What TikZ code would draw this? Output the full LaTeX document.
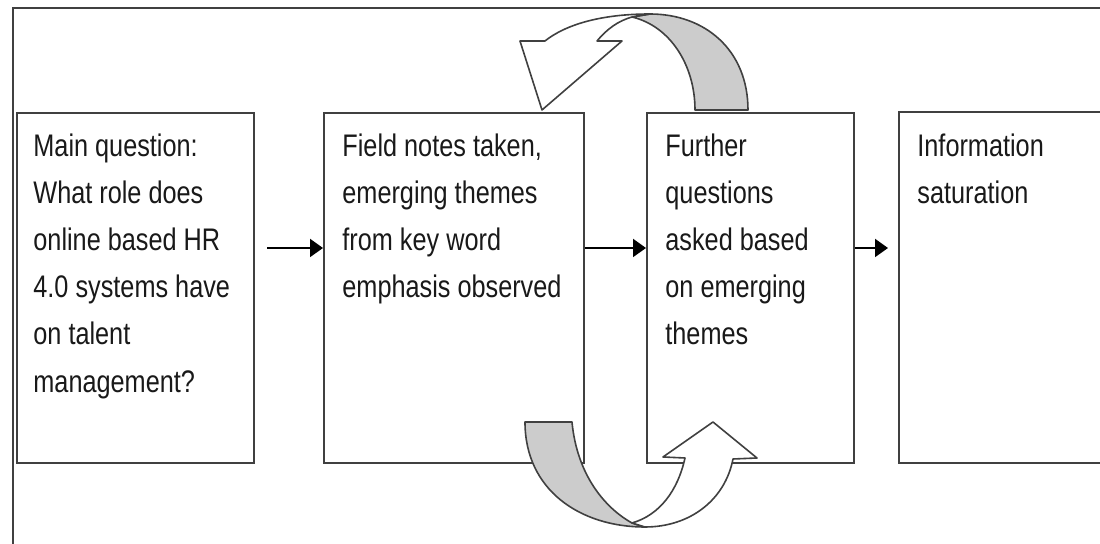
\documentclass[tikz,border=0pt]{standalone}
\usepackage{fontspec}
\setmainfont{Liberation Sans}[FakeStretch=0.81]
\usetikzlibrary{arrows.meta,calc}
\definecolor{bandgray}{RGB}{204,204,204}
\definecolor{linegray}{RGB}{64,64,64}
\begin{document}
\begin{tikzpicture}[x=0.5pt,y=-0.5pt,
  box/.style={draw=linegray, line width=1pt, fill=white, minimum width=#1,
    minimum height=175pt, inner sep=0pt, anchor=north west},
  txt/.style={anchor=north west, align=left, inner sep=0pt,
    font=\fontsize{15.6pt}{23.6pt}\selectfont, text=black!90},
  conn/.style={draw=black, line width=1pt, -{Triangle[length=6.5pt,width=9pt]}},
  band/.style={draw=linegray, line width=0.8pt, fill=bandgray, line join=round},
  front/.style={draw=linegray, line width=0.8pt, fill=white, line join=round}]
\useasboundingbox (0,0) rectangle (1100,544);
\clip (0,0) rectangle (1100,544);
% outer frame
\draw[draw=linegray, line width=1pt] (13,8) rectangle (1130,580);
% boxes
\node[box=118.5pt] (b1) at (16,112) {};
\node[box=130pt] (b2) at (323,112) {};
\node[box=103.5pt] (b3) at (646,112) {};
\node[box=130pt, minimum height=175.5pt] (b4) at (898,111) {};
% texts
\node[txt] (t1) at ($(b1.north west)+(17,21)$) {Main question:\\What role does\\online based HR\\4.0 systems have\\on talent\\management?};
\node[txt] (t2) at ($(b2.north west)+(19,21)$) {Field notes taken,\\emerging themes\\from key word\\emphasis observed};
\node[txt] (t3) at ($(b3.north west)+(19,21)$) {Further\\questions\\asked based\\on emerging\\themes};
\node[txt] (t4) at ($(b4.north west)+(19,22)$) {Information\\saturation};
% straight connectors
\draw[conn] ($(b1.north east)+(12,136)$) -- ($(b2.north west)+(0,136)$);
\draw[conn] ($(b2.north east)+(0,136)$) -- ($(b3.north west)+(0,136)$);
\draw[conn] ($(b3.north east)+(0,136)$) -- ($(b4.north west)+(-10,137)$);
% top curved arrow (back band)
\draw[band] (748,110) .. controls (748,50) and (705,14) .. (650,14)
  -- (632,17) .. controls (670,26) and (695,65) .. (695,110) -- cycle;
% top curved arrow (front part)
\draw[front] (650,14) .. controls (600,14) and (565,25) .. (545,41)
  -- (520,41) -- (542,110) -- (622,41) -- (597,41)
  .. controls (607,29) and (618,21) .. (632,17) -- cycle;
% bottom curved arrow (back band)
\draw[band] (525,422) -- (572,422) .. controls (577,475) and (605,508) .. (632,523)
  -- (645,527) .. controls (580,527) and (525,490) .. (525,422) -- cycle;
% bottom curved arrow (front part)
\draw[front] (645,527) .. controls (690,527) and (725,500) .. (733,459)
  -- (757,458) -- (713,422) -- (663,457) -- (685,458)
  .. controls (678,490) and (660,515) .. (632,523) -- cycle;
\end{tikzpicture}
\end{document}
